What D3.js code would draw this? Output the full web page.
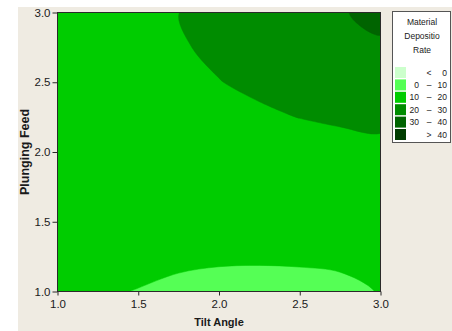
<!DOCTYPE html>
<html>
<head>
<meta charset="utf-8">
<script src="https://cdn.jsdelivr.net/npm/d3@7"></script>
<style>
  html, body { margin: 0; padding: 0; background: #ffffff; }
  svg { display: block; }
  text { font-family: "Liberation Sans", Arial, sans-serif; fill: #1a1a1a; }
</style>
</head>
<body>
<svg id="chart" width="452" height="331"></svg>
<script>
// grid positions (Tilt Angle across, Plunging Feed up)
const tiltAngle = [1.0, 1.25, 1.5, 1.75, 2.0, 2.25, 2.5, 2.75, 3.0];
const plungingFeed = [1.0, 1.25, 1.5, 1.75, 2.0, 2.25, 2.5, 2.75, 3.0];

// material deposition rate, one row per plunging feed value (bottom to top)
const rateFeed100 = [11.3, 10.52, 9.87, 9.15, 8.75, 8.58, 8.58, 8.8, 10.2];
const rateFeed125 = [12.3, 11.7, 11.2, 10.76, 10.51, 10.48, 10.61, 10.97, 11.6];
const rateFeed150 = [13.3, 12.8, 12.5, 12.2, 12.4, 12.66, 13.03, 13.24, 13.5];
const rateFeed175 = [14.3, 13.9, 13.7, 13.6, 14.28, 14.81, 15.38, 15.63, 15.8];
const rateFeed200 = [15.2, 14.9, 14.9, 15.0, 16.15, 16.96, 17.73, 18.12, 18.4];
const rateFeed225 = [16.1, 15.9, 16.0, 16.3, 18.02, 19.3, 20.08, 20.73, 21.4];
const rateFeed250 = [16.9, 16.8, 17.0, 17.8, 19.89, 20.88, 22.11, 23.44, 24.8];
const rateFeed275 = [17.5, 17.6, 18.0, 19.6, 20.82, 22.3, 24.14, 26.27, 28.6];
const rateFeed300 = [18.0, 18.2, 18.85, 19.97, 21.57, 23.64, 26.18, 29.2, 32.7];

const bandBreaks = [0, 10, 20, 30, 40];
const bandColors = ["#ccffcc", "#55ff55", "#00cc00", "#008c00", "#006400", "#003c00"];
const xTicks = [1.0, 1.5, 2.0, 2.5, 3.0];
const yTicks = [1.0, 1.5, 2.0, 2.5, 3.0];
const legendTitle = ["Material", "Depositio", "Rate"];

const rows = [rateFeed100, rateFeed125, rateFeed150, rateFeed175, rateFeed200,
    rateFeed225, rateFeed250, rateFeed275, rateFeed300];
const values = rows.flat();
const nx = tiltAngle.length, ny = plungingFeed.length;

const svg = d3.select("#chart");
const plot = {left: 57.5, right: 380.5, top: 12.5, bottom: 291.5};

// panel background
svg.append("rect")
    .attr("x", 18).attr("y", 7)
    .attr("width", 452 - 18).attr("height", 331 - 7)
    .attr("fill", "#efebe2");

const x = d3.scaleLinear().domain([1, 3]).range([plot.left, plot.right]);
const y = d3.scaleLinear().domain([1, 3]).range([plot.bottom, plot.top]);
// grid cell coordinates -> data values (sample i sits at i + 0.5)
const gx = d3.scaleLinear().domain([0.5, nx - 0.5]).range([tiltAngle[0], tiltAngle[nx - 1]]);
const gy = d3.scaleLinear().domain([0.5, ny - 0.5]).range([plungingFeed[0], plungingFeed[ny - 1]]);

// smooth the marching-squares rings so the bands look like the original
const ringLine = d3.line()
    .x(p => x(gx(p[0])))
    .y(p => y(gy(p[1])))
    .curve(d3.curveCatmullRomClosed.alpha(0.5));
const bandPath = d => d.coordinates
    .map(poly => poly.map(ring => ringLine(ring.slice(0, -1))).join(""))
    .join("");

svg.append("clipPath").attr("id", "plotClip")
    .append("rect")
    .attr("x", plot.left).attr("y", plot.top)
    .attr("width", plot.right - plot.left).attr("height", plot.bottom - plot.top);

const body = svg.append("g").attr("clip-path", "url(#plotClip)");

body.append("rect")
    .attr("x", plot.left).attr("y", plot.top)
    .attr("width", plot.right - plot.left).attr("height", plot.bottom - plot.top)
    .attr("fill", bandColors[0]);

const bands = d3.contours().size([nx, ny]).thresholds(bandBreaks)(values);
body.selectAll("path.band")
    .data(bands)
    .join("path")
    .attr("class", "band")
    .attr("d", bandPath)
    .attr("fill-rule", "evenodd")
    .attr("fill", (d, i) => bandColors[i + 1])
    .attr("stroke", (d, i) => bandColors[i + 1])
    .attr("stroke-width", 0.5);

// frame
svg.append("rect")
    .attr("x", plot.left).attr("y", plot.top)
    .attr("width", plot.right - plot.left).attr("height", plot.bottom - plot.top)
    .attr("fill", "none")
    .attr("stroke", "#2a2a2a");

// axes
const fmt = d3.format(".1f");
const xAxis = svg.append("g")
    .attr("transform", `translate(0,${plot.bottom})`)
    .call(d3.axisBottom(x).tickValues(xTicks).tickFormat(fmt).tickSize(4).tickPadding(4));
const yAxis = svg.append("g")
    .attr("transform", `translate(${plot.left},0)`)
    .call(d3.axisLeft(y).tickValues(yTicks).tickFormat(fmt).tickSize(5).tickPadding(2));

[xAxis, yAxis].forEach(g => {
    g.select(".domain").remove();
    g.selectAll(".tick line").attr("stroke", "#2a2a2a");
    g.selectAll(".tick text")
        .attr("fill", "#1a1a1a")
        .style("font-family", "'Liberation Sans', Arial, sans-serif")
        .style("font-size", "11.5px");
});

svg.append("text")
    .attr("x", (plot.left + plot.right) / 2)
    .attr("y", 326)
    .attr("text-anchor", "middle")
    .style("font-size", "11px")
    .style("font-weight", "bold")
    .text("Tilt Angle");

svg.append("text")
    .attr("transform", `translate(29,${(plot.top + plot.bottom) / 2}) rotate(-90)`)
    .attr("text-anchor", "middle")
    .style("font-size", "12.5px")
    .style("font-weight", "bold")
    .text("Plunging Feed");

// legend
const legend = svg.append("g");
legend.append("rect")
    .attr("x", 392.5).attr("y", 11.5)
    .attr("width", 58).attr("height", 131)
    .attr("fill", "#ffffff")
    .attr("stroke", "#555555");

legend.selectAll("text.title")
    .data(legendTitle)
    .join("text")
    .attr("class", "title")
    .attr("x", 422)
    .attr("y", (d, i) => 25 + i * 14)
    .attr("text-anchor", "middle")
    .style("font-size", "8.5px")
    .text(d => d);

const legendRows = bandColors.map((c, i) => ({
    color: c,
    lo: i === 0 ? null : bandBreaks[i - 1],
    hi: i === bandColors.length - 1 ? null : bandBreaks[i]
}));

const row = legend.selectAll("g.row")
    .data(legendRows)
    .join("g")
    .attr("class", "row")
    .attr("transform", (d, i) => `translate(0,${67 + i * 12.4})`);

row.append("rect")
    .attr("x", 395).attr("y", 0)
    .attr("width", 11).attr("height", 11)
    .attr("fill", d => d.color);

row.append("text")
    .attr("x", 419).attr("y", 8.5)
    .attr("text-anchor", "end")
    .style("font-size", "8.5px")
    .text(d => d.lo === null ? "" : d.hi === null ? "" : d.lo);

row.append("text")
    .attr("x", 429).attr("y", 8.5)
    .attr("text-anchor", "middle")
    .style("font-size", "8.5px")
    .text(d => d.lo === null ? "<" : d.hi === null ? ">" : "\u2013");

row.append("text")
    .attr("x", 447).attr("y", 8.5)
    .attr("text-anchor", "end")
    .style("font-size", "8.5px")
    .text(d => d.hi === null ? d.lo : d.hi);
</script>
</body>
</html>
